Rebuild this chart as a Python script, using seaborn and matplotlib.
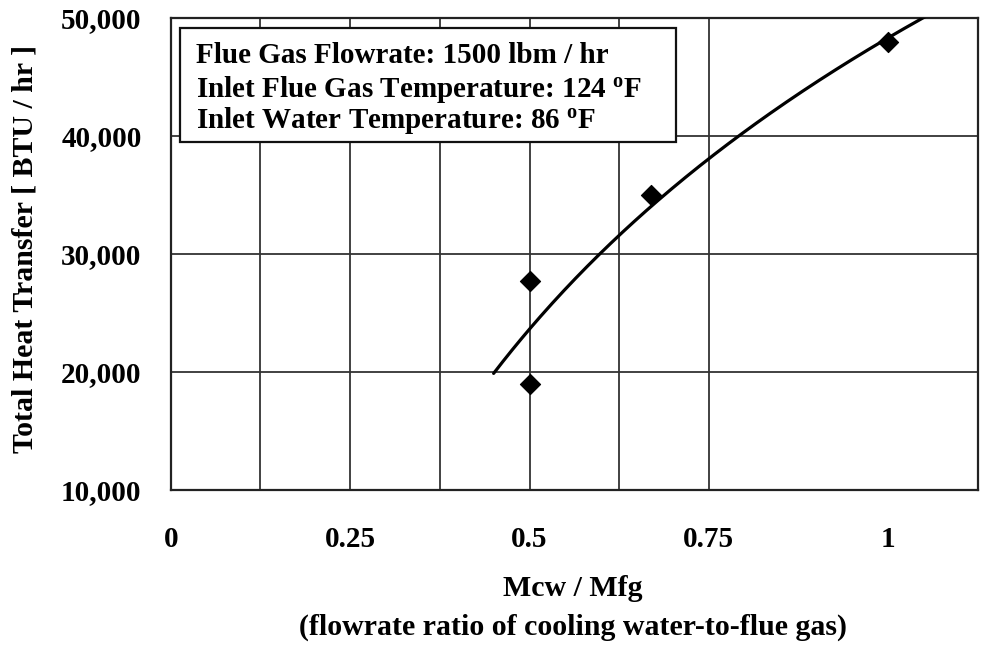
import numpy as np
import pandas as pd
import matplotlib
matplotlib.use("Agg")
import matplotlib.pyplot as plt
import seaborn as sns
from matplotlib.patches import Rectangle

# ---- data ----
ratio = [0.5, 0.5, 0.67, 1.0]                 # Mcw / Mfg
heat = [27700, 19000, 35000, 47900]            # BTU / hr
x_ticks = [0, 0.25, 0.5, 0.75, 1]
x_tick_labels = ["0", "0.25", "0.5", "0.75", "1"]
y_ticks = [10000, 20000, 30000, 40000, 50000]
y_tick_labels = ["10,000", "20,000", "30,000", "40,000", "50,000"]
info_lines = ["Flue Gas Flowrate: 1500 lbm / hr",
              "Inlet Flue Gas Temperature: 124 $^{\\mathrm{o}}$F",
              "Inlet Water Temperature: 86 $^{\\mathrm{o}}$F"]

sns.set_theme(style="white")
plt.rcParams['font.family'] = ['Liberation Serif', 'DejaVu Serif']
plt.rcParams['font.weight'] = 'bold'
plt.rcParams['mathtext.fontset'] = 'custom'
plt.rcParams['mathtext.rm'] = 'Liberation Serif:bold'
plt.rcParams['mathtext.bf'] = 'Liberation Serif:bold'
plt.rcParams['mathtext.it'] = 'Liberation Serif:bold:italic'

df = pd.DataFrame({"ratio": ratio, "heat": heat})

# logarithmic trendline fitted to the data (as Excel does)
a, c = np.polyfit(np.log(df["ratio"]), df["heat"], 1)
xs = np.linspace(0.45, 1.1, 200)
trend = pd.DataFrame({"ratio": xs, "heat": a * np.log(xs) + c})

fig = plt.figure(figsize=(9.81, 6.49), dpi=100)
ax = fig.add_axes([170.7 / 981, 1 - 490 / 649, (978 - 170.7) / 981, (490 - 17.7) / 649])
ax.set_facecolor("white")

ax.set_xlim(0, 1.125)
ax.set_ylim(10000, 50000)

# grid
grid_x = [0.125, 0.25, 0.375, 0.5, 0.625, 0.75]
for gx in grid_x:
    ax.axvline(gx, color="#333333", lw=1.3, zorder=1)
for gy in y_ticks[1:-1]:
    ax.axhline(gy, color="#333333", lw=1.3, zorder=1)

sns.lineplot(data=trend, x="ratio", y="heat", ax=ax, color="black", lw=2.3, zorder=3)
sns.scatterplot(data=df, x="ratio", y="heat", ax=ax, marker="D", s=105,
                color="black", edgecolor="black", zorder=4)

ax.set_xticks(x_ticks)
ax.set_xticklabels(x_tick_labels)
ax.set_yticks(y_ticks)
ax.set_yticklabels(y_tick_labels)
ax.tick_params(axis="x", length=0, pad=26, labelsize=21, labelcolor="black")
ax.tick_params(axis="y", length=0, pad=21, labelsize=21, labelcolor="black")
for lab in ax.get_xticklabels() + ax.get_yticklabels():
    lab.set_fontweight("bold")

for sp in ax.spines.values():
    sp.set_visible(True)
    sp.set_color("#222222")
    sp.set_linewidth(1.6)

ax.set_xlabel("")
ax.set_ylabel("")
fig.text(573 / 981, 1 - 588 / 649, "Mcw / Mfg", ha="center", va="center",
         fontsize=21.5, fontweight="bold", color="black")
fig.text(573 / 981, 1 - 627 / 649, "(flowrate ratio of cooling water-to-flue gas)",
         ha="center", va="center", fontsize=21.5, fontweight="bold", color="black")
fig.text(25 / 981, 1 - 249 / 649, "Total Heat Transfer [ BTU / hr ]", rotation=90,
         ha="center", va="center", fontsize=21.5, fontweight="bold", color="black")

# info box
box = Rectangle((0.0115, 0.736), 0.626 - 0.0115, 0.979 - 0.736, transform=ax.transAxes,
                facecolor="white", edgecolor="#111111", lw=1.6, zorder=5)
ax.add_patch(box)
for yy, line in zip([0.904, 0.832, 0.766], info_lines):
    ax.text(0.031, yy, line, transform=ax.transAxes, ha="left", va="baseline",
            fontsize=21, fontweight="bold", color="black", zorder=6)

fig.savefig("out.png", dpi=100, facecolor="white")
